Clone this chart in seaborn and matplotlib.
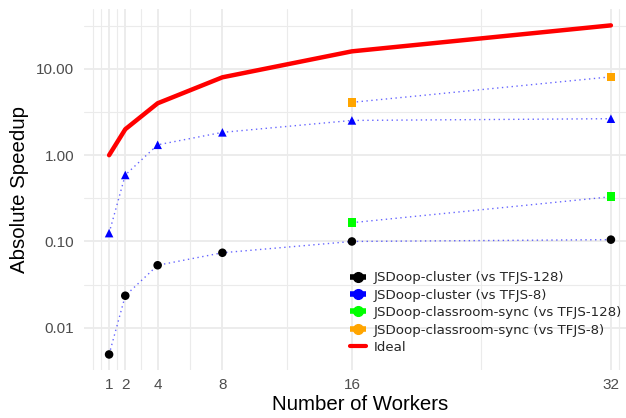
import numpy as np
import pandas as pd
import matplotlib
matplotlib.use("Agg")
import matplotlib.pyplot as plt
from matplotlib.lines import Line2D
import seaborn as sns

workers = [1, 2, 4, 8, 16, 32]
cluster_128 = [0.0049, 0.0235, 0.053, 0.074, 0.100, 0.105]
cluster_8 = [0.125, 0.59, 1.32, 1.84, 2.53, 2.65]
classroom_workers = [16, 32]
classroom_128 = [0.165, 0.33]
classroom_8 = [4.1, 8.1]
ideal = [1, 2, 4, 8, 16, 32]

names = ["JSDoop-cluster (vs TFJS-128)", "JSDoop-cluster (vs TFJS-8)",
         "JSDoop-classroom-sync (vs TFJS-128)", "JSDoop-classroom-sync (vs TFJS-8)"]
colors = ["black", "blue", "#00FF00", "orange"]
markers = ["o", "^", "s", "s"]

frames = [
    pd.DataFrame({"workers": workers, "speedup": cluster_128, "series": names[0]}),
    pd.DataFrame({"workers": workers, "speedup": cluster_8, "series": names[1]}),
    pd.DataFrame({"workers": classroom_workers, "speedup": classroom_128, "series": names[2]}),
    pd.DataFrame({"workers": classroom_workers, "speedup": classroom_8, "series": names[3]}),
]
df = pd.concat(frames, ignore_index=True)
ideal_df = pd.DataFrame({"workers": workers, "speedup": ideal})

sns.set_theme(style="whitegrid")
plt.rcParams['font.family'] = ['Liberation Sans', 'DejaVu Sans']

fig = plt.figure(figsize=(6.26, 4.18), dpi=100)
ax = fig.add_axes([84/626, 1-370/418, 552/626, (370-9)/418])
ax.set_facecolor("white")

sns.lineplot(data=ideal_df, x="workers", y="speedup", color="red", linewidth=3.2,
             ax=ax, legend=False, zorder=3)
for n in names:
    sub = df[df["series"] == n]
    sns.lineplot(data=sub, x="workers", y="speedup", color="blue", alpha=0.6,
                 linewidth=1.0, linestyle=(0, (1, 2.5)), ax=ax, legend=False, zorder=2)
sns.scatterplot(data=df, x="workers", y="speedup", hue="series", style="series",
                palette=dict(zip(names, colors)), markers=dict(zip(names, markers)),
                s=38, linewidth=0, ax=ax, legend=False, zorder=4)

ax.set_yscale("log")
ax.set_xlim(-0.55, 33.55)
ax.set_ylim(10**-2.49, 10**1.695)
ax.set_xticks(workers)
ax.set_xticklabels([str(w) for w in workers])
ax.set_xticks([0, 0.5, 1.5, 3, 6, 12, 24, 32.5], minor=True)
yt = [0.01, 0.1, 1, 10]
ax.set_yticks(yt)
ax.set_yticklabels(["0.01", "0.10", "1.00", "10.00"])
ax.set_yticks([10**-1.5, 10**-0.5, 10**0.5, 10**1.5], minor=True)
ax.yaxis.set_minor_formatter(matplotlib.ticker.NullFormatter())
ax.grid(which="major", color="#EBEBEB", linewidth=1.3)
ax.grid(which="minor", color="#EBEBEB", linewidth=0.8)
for s in ax.spines.values():
    s.set_visible(False)
ax.tick_params(axis="both", which="both", length=0, labelsize=11, labelcolor="#4D4D4D")
ax.tick_params(axis="y", pad=7)
ax.tick_params(axis="x", pad=6)
ax.set_xlabel("Number of Workers", fontsize=14.7, labelpad=2, color="black")
ax.set_ylabel("Absolute Speedup", fontsize=14.7, labelpad=5, color="black")

handles = [Line2D([], [], color=c, marker=m, markersize=7, linewidth=4, solid_capstyle="butt")
           for c, m in zip(colors, ["o", "o", "o", "o"])]
handles.append(Line2D([], [], color="red", linewidth=3))
leg = fig.legend(handles, names + ["Ideal"], loc="upper left",
                 bbox_to_anchor=(345/626, 1-266/418), frameon=False,
                 prop={"family": "DejaVu Sans", "size": 9.6},
                 handlelength=1.2, handletextpad=0.55, labelspacing=0.33, borderaxespad=0)

fig.savefig("out.png", dpi=100)
